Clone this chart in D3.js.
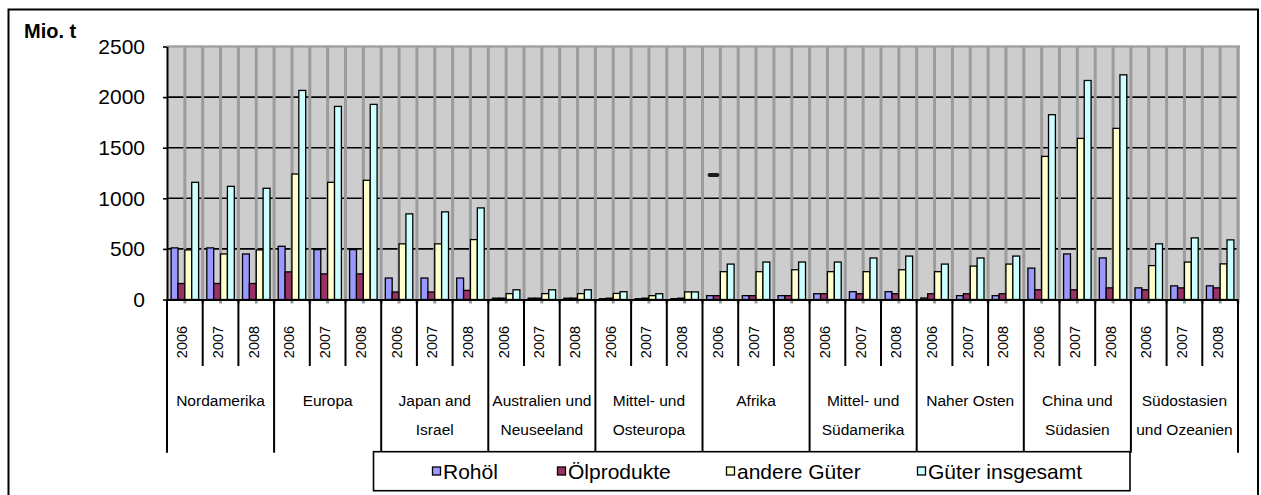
<!DOCTYPE html>
<html>
<head>
<meta charset="utf-8">
<script src="https://cdn.jsdelivr.net/npm/d3@7"></script>
<style>
  body { margin: 0; background: #fff; }
  svg { display: block; }
  text { font-family: "Liberation Sans", Arial, sans-serif; fill: #000; }
</style>
</head>
<body>
<svg id="chart" width="1261" height="495" font-family="Liberation Sans, Arial, sans-serif"></svg>
<script>
// Regions (two-line labels where the category label wraps) and years
const regions = [
  ["Nordamerika"], ["Europa"], ["Japan and", "Israel"], ["Australien und", "Neuseeland"],
  ["Mittel- und", "Osteuropa"], ["Afrika"], ["Mittel- und", "Südamerika"], ["Naher Osten"],
  ["China und", "Südasien"], ["Südostasien", "und Ozeanien"]
];
const years = ["2006", "2007", "2008"];

// Series (Mio. t), one value per region/year, in region order
const seriesNames = ["Rohöl", "Ölprodukte", "andere Güter", "Güter insgesamt"];
const seriesColors = ["#9999ff", "#993366", "#ffffcc", "#ccffff"];

const rohoel = [
  510, 510, 450,   526, 493, 493,   212, 212, 212,   13, 13, 13,   8, 8, 8,
  38, 38, 38,      57, 77, 77,      15, 38, 38,      310, 450, 411,  115, 135, 135
];
const oelprodukte = [
  158, 158, 158,   273, 253, 253,   74, 74, 90,     13, 13, 13,   13, 13, 13,
  38, 38, 38,      57, 57, 57,      57, 57, 57,     96, 96, 115,   96, 115, 115
];
const andereGueter = [
  490, 450, 490,   1240, 1158, 1178, 550, 550, 592,  58, 58, 58,   60, 38, 75,
  275, 275, 294,   275, 275, 294,   275, 330, 350,  1414, 1592, 1691, 335, 370, 352
];
const gueterGesamt = [
  1158, 1118, 1099, 2066, 1908, 1928, 846, 866, 905,  96, 96, 96,   77, 57, 75,
  350, 370, 370,    370, 410, 429,    350, 410, 429,  1826, 2164, 2220, 550, 609, 589
];
const seriesValues = [rohoel, oelprodukte, andereGueter, gueterGesamt];

const yTicks = [0, 500, 1000, 1500, 2000, 2500];
const yUnit = "Mio. t";

// Small dark dash floating inside the plot (region index, year index, value)
const dashMark = { region: 5, year: 0, value: 1230 };

// ---------------------------------------------------------------------------
const svg = d3.select("#chart");
const plot = { left: 167, right: 1238, top: 46.5, bottom: 299.5 };

const categories = regions.flatMap((r, ri) => years.map((yr, yi) => ({ key: ri + "-" + yr, region: ri, year: yr, idx: ri * 3 + yi })));

const x = d3.scaleBand().domain(categories.map(c => c.key)).range([plot.left, plot.right]);
const bw = x.bandwidth();
const xs = d3.scaleBand().domain(seriesNames).range([bw * 0.115, bw * 0.885]);
const y = d3.scaleLinear().domain([0, 2500]).range([plot.bottom, plot.top]);

// Outer frame
svg.append("rect")
  .attr("x", 8.5).attr("y", 9.5).attr("width", 1249.5).attr("height", 490)
  .attr("fill", "none").attr("stroke", "#000").attr("stroke-width", 2);

// Plot background
svg.append("rect")
  .attr("x", plot.left).attr("y", plot.top)
  .attr("width", plot.right - plot.left + 2).attr("height", plot.bottom - plot.top)
  .attr("fill", "#cdcdcd");

// Horizontal gridlines
svg.append("g").selectAll("line")
  .data(yTicks.filter(t => t > 0 && t < 2500))
  .join("line")
  .attr("x1", plot.left).attr("x2", plot.right)
  .attr("y1", d => y(d)).attr("y2", d => y(d))
  .attr("stroke", "#000").attr("stroke-width", 1.6);

// Top edge of plot area
svg.append("line")
  .attr("x1", plot.left).attr("x2", plot.right + 2)
  .attr("y1", y(2500)).attr("y2", y(2500))
  .attr("stroke", "#a2a2a2").attr("stroke-width", 2.5);

// Vertical gray gridlines at every half category
const halfSteps = d3.range(1, categories.length * 2 + 1);
svg.append("g").selectAll("line")
  .data(halfSteps)
  .join("line")
  .attr("x1", d => plot.left + d * bw / 2).attr("x2", d => plot.left + d * bw / 2)
  .attr("y1", plot.top).attr("y2", plot.bottom + 4)
  .attr("stroke", "#9c9c9c").attr("stroke-width", 3);

// Bars
const barData = categories.flatMap(c => seriesNames.map((s, si) => ({ c, s, si, v: seriesValues[si][c.idx] })));
svg.append("g").selectAll("rect")
  .data(barData)
  .join("rect")
  .attr("x", d => x(d.c.key) + xs(d.s))
  .attr("width", xs.bandwidth())
  .attr("y", d => y(d.v))
  .attr("height", d => y(0) - y(d.v))
  .attr("fill", d => seriesColors[d.si])
  .attr("stroke", "#000").attr("stroke-width", 1.3);

// Dash mark
const dashCat = categories.find(c => c.region === dashMark.region && c.year === years[dashMark.year]);
svg.append("defs").append("filter").attr("id", "soft")
  .append("feGaussianBlur").attr("stdDeviation", 0.6);
svg.append("rect")
  .attr("x", x(dashCat.key) + xs(seriesNames[0]) + 1)
  .attr("width", xs.bandwidth() * 2 - 2)
  .attr("y", y(dashMark.value) - 2).attr("height", 4).attr("rx", 2)
  .attr("fill", "#1a1a1a").attr("filter", "url(#soft)");

// Y axis
const yAxis = d3.axisLeft(y).tickValues(yTicks).tickFormat(d3.format("d"))
  .tickSize(4).tickSizeOuter(0).tickPadding(18);
const gy = svg.append("g").attr("transform", `translate(${plot.left},0)`).call(yAxis);
gy.attr("font-family", null).attr("font-size", null);
gy.select(".domain").attr("stroke-width", 2);
gy.selectAll(".tick line").attr("stroke-width", 1.6);
gy.selectAll(".tick text").attr("font-size", 21);

// Unit label
svg.append("text").attr("x", 24).attr("y", 38)
  .attr("font-size", 20).attr("font-weight", "bold").text(yUnit);

// X axis baseline
svg.append("line")
  .attr("x1", plot.left).attr("x2", plot.right)
  .attr("y1", plot.bottom + 0.5).attr("y2", plot.bottom + 0.5)
  .attr("stroke", "#000").attr("stroke-width", 2);

// Category separators: short between years, long between regions
const boundaries = d3.range(0, categories.length + 1);
svg.append("g").selectAll("line")
  .data(boundaries)
  .join("line")
  .attr("x1", d => plot.left + d * bw).attr("x2", d => plot.left + d * bw)
  .attr("y1", plot.bottom).attr("y2", d => d % 3 === 0 ? 452.7 : 366)
  .attr("stroke", "#000").attr("stroke-width", 2);

// Year labels (rotated)
svg.append("g").selectAll("text")
  .data(categories)
  .join("text")
  .attr("transform", d => `translate(${x(d.key) + bw / 2 + 2.5},342) rotate(-90)`)
  .attr("text-anchor", "middle")
  .attr("font-size", 14.5)
  .text(d => d.year);

// Region labels
const rg = svg.append("g").selectAll("text")
  .data(regions)
  .join("text")
  .attr("text-anchor", "middle")
  .attr("font-size", 15.5);
rg.selectAll("tspan")
  .data((d, i) => d.map((line, li) => ({ line, li, cx: plot.left + (i * 3 + 1.5) * bw })))
  .join("tspan")
  .attr("x", d => d.cx)
  .attr("y", d => 405.5 + d.li * 29)
  .text(d => d.line);

// Legend
const legend = svg.append("g");
legend.append("rect")
  .attr("x", 373.5).attr("y", 451.7).attr("width", 756.5).attr("height", 39)
  .attr("fill", "#fff").attr("stroke", "#000").attr("stroke-width", 1.6);
const legendX = [432, 557, 726, 917];
const li = legend.selectAll("g.item")
  .data(seriesNames)
  .join("g").attr("class", "item")
  .attr("transform", (d, i) => `translate(${legendX[i]},471)`);
li.append("rect")
  .attr("x", 0.5).attr("y", -4).attr("width", 8).attr("height", 8)
  .attr("fill", (d, i) => seriesColors[i]).attr("stroke", "#000").attr("stroke-width", 1.3);
li.append("text")
  .attr("x", 11).attr("y", 7.5)
  .attr("font-size", 21)
  .text(d => d);
</script>
</body>
</html>
